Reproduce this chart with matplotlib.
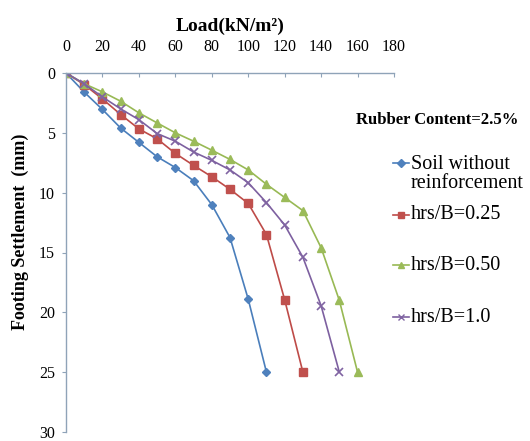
import matplotlib
matplotlib.use("Agg")
import matplotlib.pyplot as plt
from matplotlib.lines import Line2D

plt.rcParams['font.family'] = ['Liberation Serif', 'DejaVu Serif']

# load values (kN/m2) and settlements (mm)
load = [0, 10, 20, 30, 40, 50, 60, 70, 80, 90, 100, 110, 120, 130, 140, 150, 160]
soil = [0, 1.6, 3.05, 4.6, 5.8, 7.0, 7.9, 9.0, 11.0, 13.75, 18.9, 25.0]
hrs025 = [0, 0.97, 2.17, 3.47, 4.67, 5.5, 6.72, 7.72, 8.67, 9.72, 10.9, 13.5, 18.95, 25.0]
hrs050 = [0, 0.9, 1.58, 2.36, 3.33, 4.17, 5.0, 5.7, 6.45, 7.22, 8.1, 9.3, 10.4, 11.5, 14.6, 19.0, 25.0]
hrs10 = [0, 0.9, 2.0, 3.0, 3.9, 5.06, 5.7, 6.6, 7.3, 8.1, 9.17, 10.83, 12.7, 15.4, 19.45, 25.0]

labels = ["Soil without\nreinforcement", "hrs/B=0.25", "hrs/B=0.50", "hrs/B=1.0"]
xticks = [0, 20, 40, 60, 80, 100, 120, 140, 160, 180]
yticks = [0, 5, 10, 15, 20, 25, 30]

series = [
    (soil, "#4A7EBB", "#4F81BD", "D", 4.5),
    (hrs025, "#BE4B48", "#C0504D", "s", 5.5),
    (hrs050, "#98B954", "#9BBB59", "^", 6),
    (hrs10, "#7D60A0", "#8064A2", "x", 5.5),
]

fig = plt.figure(figsize=(5.3, 4.41), dpi=100)
ax = fig.add_axes([66/530, 1-432/441, (394-66)/530, (432-73)/441])

for (y, lc, mc, m, ms) in series:
    ax.plot(load[:len(y)], y, color=lc, lw=1.2, marker=m, markersize=ms,
            markerfacecolor=mc, markeredgecolor=mc, markeredgewidth=1.0 if m != "x" else 1.2)

ax.set_xlim(0, 180)
ax.set_ylim(30, 0)
ax.set_xticks(xticks)
ax.set_yticks(yticks)
ax.xaxis.tick_top()
ax.xaxis.set_label_position("top")
ax.spines["right"].set_visible(False)
ax.spines["bottom"].set_visible(False)
for s in ["left", "top"]:
    ax.spines[s].set_color("#8FA3B8")
    ax.spines[s].set_linewidth(1.0)
ax.tick_params(axis="x", direction="in", length=3, color="#8FA3B8", pad=13, labelsize=11.5)
ax.tick_params(axis="y", direction="out", length=3, color="#8FA3B8", pad=5, labelsize=11.5)

ax.set_xlabel("Load(kN/m²)", fontsize=14, fontweight="bold", labelpad=6)
fig.text(20/530, 1-232/441, "Footing Settlement  (mm)", rotation=90, fontsize=13,
         fontweight="bold", ha="center", va="center")

fig.text(437/530, 1-120/441, "Rubber Content=2.5%", fontsize=12, fontweight="bold",
         ha="center", va="center")

# manual legend, like the spread-out Excel legend
leg_y = [163, 215, 265, 317]
for (y, lc, mc, m, ms), lab, ly in zip(series, labels, leg_y):
    yy = 1 - ly/441
    fig.add_artist(Line2D([393/530, 409/530], [yy, yy], color=lc, lw=1.2))
    fig.add_artist(Line2D([401/530], [yy], marker=m, markersize=ms*0.8,
                          color=mc, markeredgecolor=mc))
    fig.text(411/530, yy + (8/441 if "\n" in lab else 0), lab, fontsize=14.5, ha="left",
             va="top" if "\n" in lab else "center", linespacing=1.0)

fig.savefig("out.png", dpi=100)
